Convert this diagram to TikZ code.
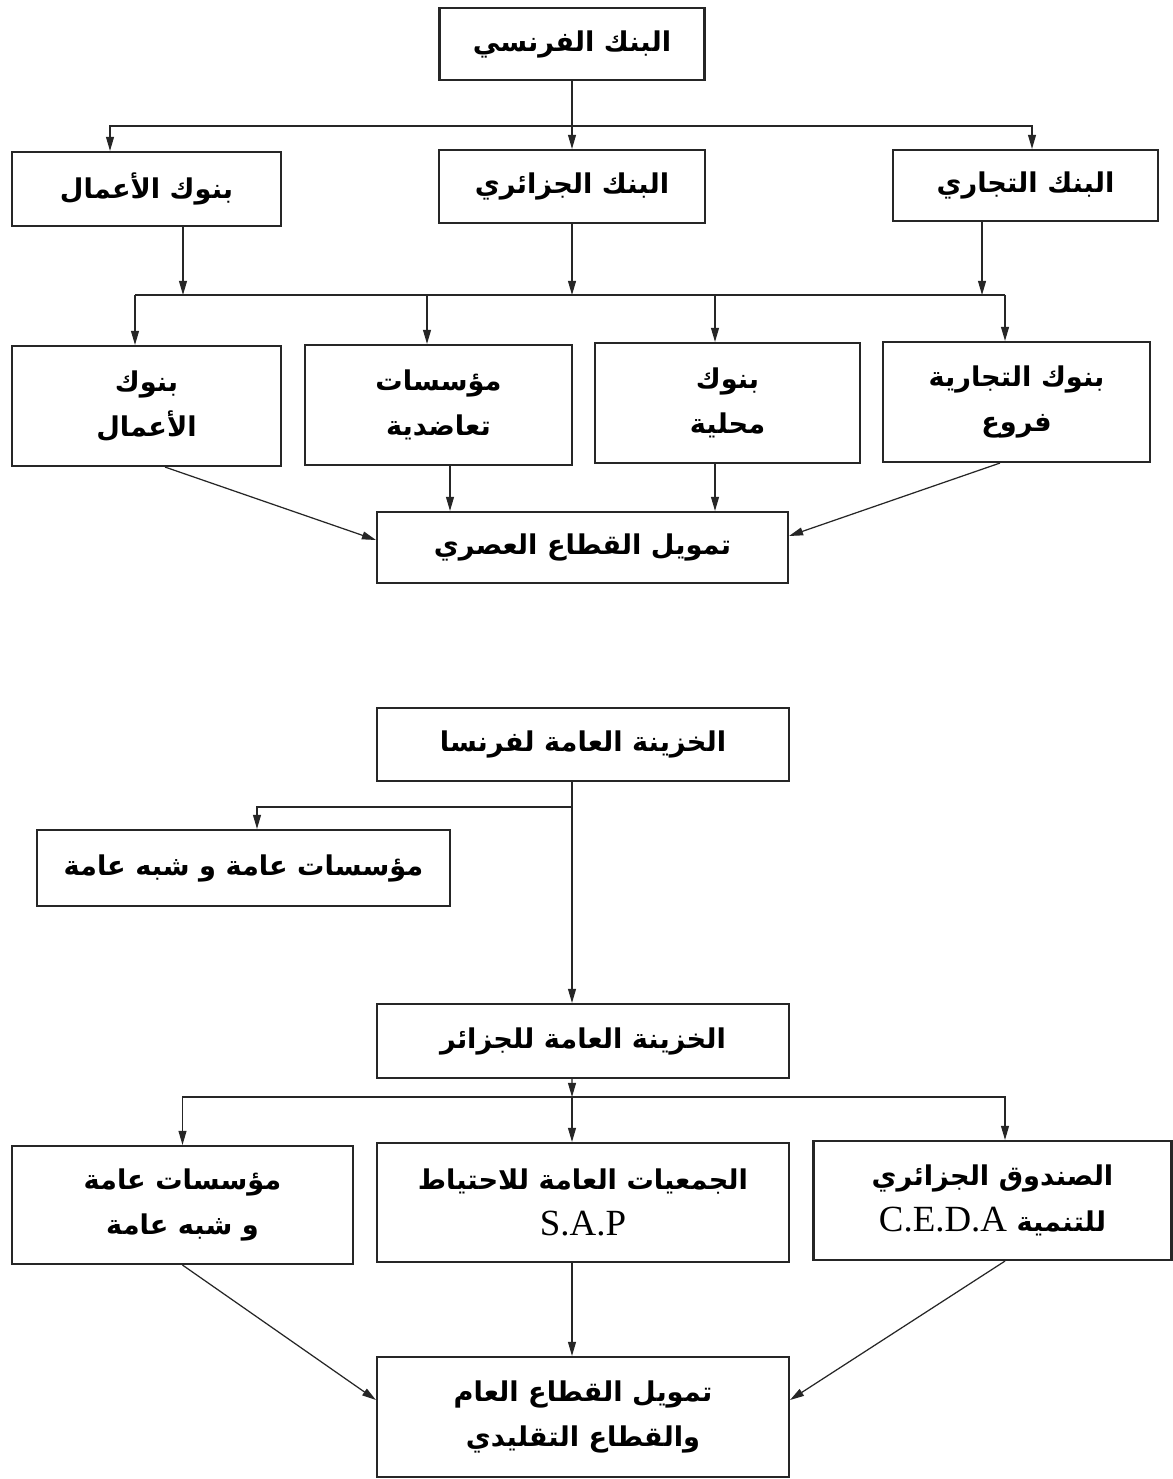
\documentclass[tikz,border=0pt]{standalone}
\usepackage{fontspec}
\newfontfamily\arabicfont[Script=Arabic]{DejaVu Sans}
\newfontfamily\latinserif{Liberation Serif}
\TeXXeTstate=1
\usetikzlibrary{arrows.meta, positioning}

\newcommand{\artxt}[1]{\beginR #1\endR}
\newcommand{\lat}[1]{\beginL{\latinserif\mdseries\fontsize{21}{27}\selectfont #1}\endL{}}

\begin{document}
\begin{tikzpicture}[
    x=0.02cm, y=-0.02cm,
    font=\arabicfont\bfseries\fontsize{15.5}{26}\selectfont,
    box/.style={rectangle, draw=black!85, line width=1.2pt, align=center, inner sep=2pt},
    arrow/.style={-{Triangle[length=8pt, width=4.5pt]}, line width=0.7pt, draw=black!85}
]
\useasboundingbox[fill=white] (0,0) rectangle (1172,1479);

% Top: French bank and its branches
\node[box, minimum width=5.3cm, minimum height=1.44cm] (fr) at (572,44) {\artxt{البنك الفرنسي}};
\node[box, minimum width=5.38cm, minimum height=1.48cm] (amal) at (146.5,189) {\artxt{بنوك الأعمال}};
\node[box, minimum width=5.32cm, minimum height=1.46cm] (jaz) at (572,186.5) {\artxt{البنك الجزائري}};
\node[box, minimum width=5.3cm, minimum height=1.42cm] (tij) at (1025.5,185.5) {\artxt{البنك التجاري}};

% Second row
\node[box, minimum width=5.38cm, minimum height=2.4cm] (b1) at (146.5,406) {\artxt{بنوك}\\\artxt{الأعمال}};
\node[box, minimum width=5.34cm, minimum height=2.4cm] (b2) at (438.5,405) {\artxt{مؤسسات}\\\artxt{تعاضدية}};
\node[box, minimum width=5.3cm, minimum height=2.4cm] (b3) at (727.5,403) {\artxt{بنوك}\\\artxt{محلية}};
\node[box, minimum width=5.34cm, minimum height=2.4cm] (b4) at (1016.5,402) {\artxt{بنوك التجارية}\\\artxt{فروع}};

\node[box, minimum width=8.22cm, minimum height=1.42cm] (asri) at (582.5,547.5) {\artxt{تمويل القطاع العصري}};

% Bottom: treasuries
\node[box, minimum width=8.24cm, minimum height=1.46cm] (tfr) at (583,744.5) {\artxt{الخزينة العامة لفرنسا}};
\node[box, minimum width=8.26cm, minimum height=1.52cm] (pub) at (243.5,868) {\artxt{مؤسسات عامة و شبه عامة}};
\node[box, minimum width=8.24cm, minimum height=1.48cm] (tdz) at (583,1041) {\artxt{الخزينة العامة للجزائر}};

\node[box, minimum width=6.82cm, minimum height=2.36cm] (m1) at (182.5,1205) {\artxt{مؤسسات عامة}\\\artxt{و شبه عامة}};
\node[box, minimum width=8.24cm, minimum height=2.38cm] (m2) at (583,1202.5) {\artxt{الجمعيات العامة للاحتياط}\\\lat{S.A.P}};
\node[box, minimum width=7.16cm, minimum height=2.38cm] (m3) at (992.5,1200.5) {\artxt{الصندوق الجزائري}\\\artxt{للتنمية \lat{C.E.D.A}}};

\node[box, minimum width=8.24cm, minimum height=2.4cm] (fin) at (583,1417) {\artxt{تمويل القطاع العام}\\\artxt{والقطاع التقليدي}};

% Forks
\coordinate (fork1) at (572,126);
\coordinate (fork2) at (572,295);
\coordinate (fork3) at (572,807);
\coordinate (fork4) at (572,1097);

% Connections, top
\draw[arrow] (fr) -- (jaz);
\draw[arrow] (fork1) -| ([xshift=-0.73cm]amal.north);
\draw[arrow] (fork1) -| ([xshift=0.13cm]tij.north);

\draw[arrow] ([xshift=0.73cm]amal.south) -- ([xshift=0.73cm]amal.south |- fork2);
\draw[arrow] (jaz.south) -- (jaz.south |- fork2);
\draw[arrow] ([xshift=-0.87cm]tij.south) -- ([xshift=-0.87cm]tij.south |- fork2);

\draw[line width=0.7pt, draw=black!85] ([xshift=-0.23cm]b1.north |- fork2) -- ([xshift=-0.23cm]b4.north |- fork2);
\draw[arrow] ([xshift=-0.23cm]b1.north |- fork2) -- ([xshift=-0.23cm]b1.north);
\draw[arrow] ([xshift=-0.23cm]b2.north |- fork2) -- ([xshift=-0.23cm]b2.north);
\draw[arrow] ([xshift=-0.25cm]b3.north |- fork2) -- ([xshift=-0.25cm]b3.north);
\draw[arrow] ([xshift=-0.23cm]b4.north |- fork2) -- ([xshift=-0.23cm]b4.north);

\draw[arrow] ([xshift=0.37cm]b1.south) -- ([yshift=0.15cm]asri.west);
\draw[arrow] ([xshift=0.23cm]b2.south) -- ([xshift=0.23cm]b2.south |- asri.north);
\draw[arrow] ([xshift=-0.25cm]b3.south) -- ([xshift=-0.25cm]b3.south |- asri.north);
\draw[arrow] ([xshift=-0.33cm]b4.south) -- ([yshift=0.23cm]asri.east);

% Connections, bottom
\draw[arrow] ([xshift=-0.22cm]tfr.south) -- ([xshift=-0.22cm]tdz.north);
\draw[arrow] (fork3) -| ([xshift=0.27cm]pub.north);

\draw[arrow] ([xshift=-0.22cm]tdz.south) -- (fork4);
\draw[line width=0.7pt, draw=black!85] (m1.north |- fork4) -- ([xshift=0.25cm]m3.north |- fork4);
\draw[arrow] (fork4) -| (m1.north);
\draw[arrow] (fork4) -- (fork4 |- m2.north);
\draw[arrow] (fork4) -| ([xshift=0.25cm]m3.north);

\draw[arrow] (m1.south) -- ([yshift=0.34cm]fin.west);
\draw[arrow] ([xshift=-0.22cm]m2.south) -- ([xshift=-0.22cm]m2.south |- fin.north);
\draw[arrow] ([xshift=0.25cm]m3.south) -- ([yshift=0.34cm]fin.east);

\end{tikzpicture}
\end{document}
